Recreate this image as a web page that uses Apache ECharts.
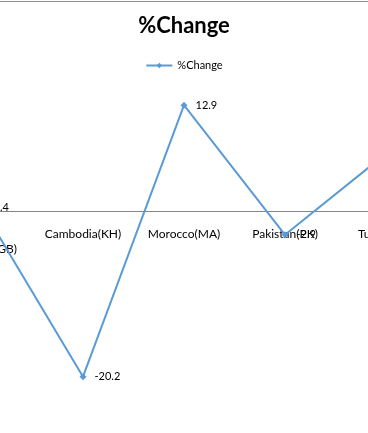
<!DOCTYPE html>
<html><head><meta charset="utf-8">
<script src="https://cdn.jsdelivr.net/npm/echarts@6/dist/echarts.min.js"></script>
<style>html,body{margin:0;padding:0;background:#fff;overflow:hidden;width:368px;height:433px;position:relative}#c{width:404px;height:433px;position:absolute;left:-18px;top:0}</style>
</head><body><div id="c"></div>
<script>
const categories = ["United Kingdom(GB)", "Cambodia(KH)", "Morocco(MA)", "Pakistan(PK)", "Turkey(TR)"];
const pctChange = [0.4, -20.2, 12.9, -2.9, 7.0];
const seriesName = "%Change";
const FONT = "Lato, 'Liberation Sans', sans-serif";

const GRID_TOP = 47, GRID_BOTTOM = 17, H = 433, Y_MIN = -25, Y_MAX = 20;
const gridH = H - GRID_TOP - GRID_BOTTOM;
const zeroY = GRID_TOP + (Y_MAX / (Y_MAX - Y_MIN)) * gridH;
const axisOffset = -((H - GRID_BOTTOM) - zeroY);

const chart = echarts.init(document.getElementById('c'), null, {renderer: 'canvas'});
chart.setOption({
  animation: false,
  title: {
    text: "%Change", left: 'center', top: 10,
    textStyle: {fontFamily: FONT, fontSize: 22, fontWeight: 'bold', color: '#000'}
  },
  legend: {
    top: 55, left: 'center', itemWidth: 26, itemHeight: 7, itemGap: 4,
    textStyle: {fontFamily: FONT, fontSize: 11, color: '#000'},
    data: [seriesName]
  },
  graphic: [{type: 'line', shape: {x1: 0, y1: 1.5, x2: 404, y2: 1.5}, style: {stroke: '#8c8c8c', lineWidth: 1}}],
  grid: {left: 0, right: 0, top: GRID_TOP, bottom: GRID_BOTTOM, containLabel: false, outerBoundsMode: 'none'},
  xAxis: {
    type: 'category', data: categories, boundaryGap: false,
    position: 'bottom', offset: axisOffset,
    axisLine: {onZero: false, lineStyle: {color: '#868686', width: 1}},
    axisTick: {show: false},
    axisLabel: {
      interval: 0, margin: 16, color: '#000', fontFamily: FONT, fontSize: 12, lineHeight: 15,
      hideOverlap: false, showMinLabel: true, showMaxLabel: true,
      formatter: v => v.indexOf(' ') >= 0 ? v.replace(' ', '\n') : v
    }
  },
  yAxis: {type: 'value', min: Y_MIN, max: Y_MAX, show: true,
    axisLine: {show: false}, axisTick: {show: false}, axisLabel: {show: false}, splitLine: {show: false}},
  series: [{
    name: seriesName, type: 'line', data: pctChange,
    symbol: 'diamond', symbolSize: 7,
    lineStyle: {color: '#5B9BD5', width: 2},
    itemStyle: {color: '#5B9BD5'},
    label: {show: true, position: 'right', distance: 8, color: '#000', fontFamily: FONT, fontSize: 11,
      formatter: p => p.value.toFixed(1)}
  }]
});
</script></body></html>
